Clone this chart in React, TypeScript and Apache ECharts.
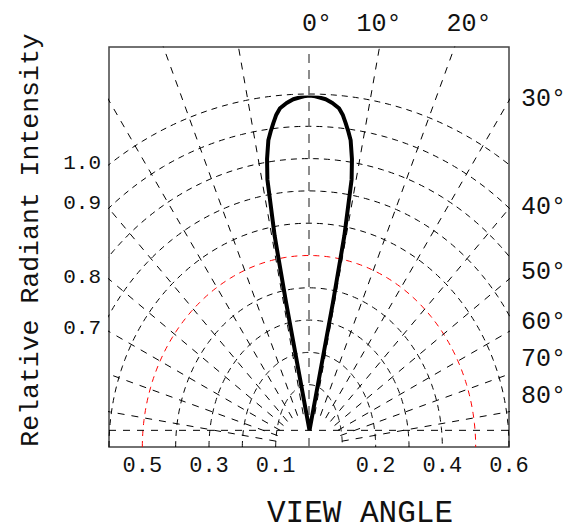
import React, { useEffect, useRef } from "react";
import * as echarts from "echarts";

// ---- data ----
// lobe: view angle (deg) vs relative radiant intensity
const lobeAngles = [-10.5, -10.38, -10.15, -9.52, -8.89, -8.07, -7.4, -6.71, -6.0, -5.23, -4.0, -2.8, -1.63, -1, 0, 1, 1.63, 2.8, 4.0, 5.23, 6.0, 6.71, 7.4, 8.07, 8.89, 9.52, 10.15, 10.38, 10.5];
const lobeIntensity = [0, 0.387, 0.59, 0.76, 0.82, 0.875, 0.9, 0.924, 0.948, 0.966, 0.98, 0.99, 0.995, 0.998, 1.0, 0.998, 0.995, 0.99, 0.98, 0.966, 0.948, 0.924, 0.9, 0.875, 0.82, 0.76, 0.59, 0.387, 0];

const gridArcs = [1, 2, 3, 4, 5, 6, 7, 8, 9, 10];
const redArc = 5;
const radialAngles = [-80, -70, -60, -50, -40, -30, -20, -10, 10, 20, 30, 40, 50, 60, 70, 80];

const topLabels = ["0°", "10°", "20°"];
const rightLabels = ["30°", "40°", "50°", "60°", "70°", "80°"];
const leftLabels = ["1.0", "0.9", "0.8", "0.7"];
const bottomTickLabels = ["0.5", "0.3", "0.1", "0.2", "0.4", "0.6"];
const bottomTickAt = [-5, -3, -1, 2, 4, 6];

// ---- layout (pixels) ----
const topLabelX = [317, 379, 469];
const rightLabelY = [99, 207, 272, 322, 359, 396];
const leftLabelY = [163, 203, 277, 328];

const FONT = "Liberation Mono";

export default function App() {
  const ref = useRef<HTMLDivElement>(null);
  useEffect(() => {
    if (!ref.current) return;
    const chart = echarts.init(ref.current, undefined, { renderer: "svg" });

    const arcSeries = gridArcs.map((k) => {
      const pts: number[][] = [];
      const rx = k;
      const ry = 0.9 + 0.969 * k;
      for (let t = -90; t <= 90; t += 1) {
        const a = (t * Math.PI) / 180;
        pts.push([rx * Math.sin(a), ry * Math.cos(a)]);
      }
      return {
        type: "line",
        silent: true,
        symbol: "none",
        data: pts,
        clip: true,
        z: 2,
        lineStyle: { color: k === redArc ? "#ff0000" : "#000", width: 1, type: [6, 5] },
      };
    });

    const radialSeries = radialAngles.map((deg) => {
      const a = (deg * Math.PI) / 180;
      return {
        type: "line",
        silent: true,
        symbol: "none",
        clip: true,
        z: 2,
        data: [
          [1.0 * Math.sin(a), 1.0 * Math.cos(a)],
          [20 * Math.sin(a), 20 * Math.cos(a)],
        ],
        lineStyle: { color: "#000", width: 1, type: [7, 7] },
      };
    });

    const txt = (text: string, x: number, y: number, size: number, align: string, extra: any = {}) => ({
      type: "text",
      x,
      y,
      z: 10,
      silent: true,
      ...extra,
      style: {
        text,
        fontSize: size,
        fontFamily: FONT,
        fill: "#111",
        align,
        textAlign: align,
        verticalAlign: "middle",
        textVerticalAlign: "middle",
      },
    });

    const graphics: any[] = [];
    topLabels.forEach((t, i) => graphics.push(txt(t, topLabelX[i], 24, 25, "center")));
    rightLabels.forEach((t, i) => graphics.push(txt(t, 521, rightLabelY[i], 25, "left")));
    leftLabels.forEach((t, i) => graphics.push(txt(t, 101, leftLabelY[i], 21, "right")));
    graphics.push(txt("VIEW ANGLE", 360, 513, 31, "center"));
    graphics.push(txt("Relative Radiant Intensity", 31, 240, 26.5, "center", { rotation: Math.PI / 2 }));

    chart.setOption({
      animation: false,
      grid: {
        left: 109,
        top: 47,
        width: 400,
        height: 400,
        show: true,
        borderColor: "#444",
        borderWidth: 1.5,
        backgroundColor: "transparent",
      },
      xAxis: {
        type: "value",
        min: -6,
        max: 6,
        interval: 1,
        axisLine: { show: false },
        axisTick: { show: false },
        splitLine: { show: false },
        axisLabel: {
          show: true,
          margin: 8,
          fontSize: 22,
          fontFamily: FONT,
          color: "#111",
          showMinLabel: true,
          showMaxLabel: true,
          hideOverlap: false,
          formatter: (v: number) => {
            const i = bottomTickAt.indexOf(Math.round(v));
            return i >= 0 ? bottomTickLabels[i] : "";
          },
        },
      },
      yAxis: {
        type: "value",
        min: 0,
        max: 12,
        show: false,
      },
      polar: { center: [309.5, 430.5], radius: 335 },
      radiusAxis: { min: 0, max: 1, show: false },
      angleAxis: { type: "value", min: -180, max: 180, startAngle: 270, clockwise: true, show: false },
      graphic: graphics,
      series: [
        ...arcSeries,
        ...radialSeries,
        {
          type: "line",
          silent: true,
          symbol: "none",
          clip: true,
          z: 2,
          data: [
            [-6, 0.5],
            [6, 0.5],
          ],
          lineStyle: { color: "#000", width: 1, type: [7, 7] },
        },
        {
          type: "line",
          silent: true,
          symbol: "none",
          clip: true,
          z: 3,
          data: [
            [0, 0],
            [0, 12],
          ],
          lineStyle: { color: "#666", width: 1.5, type: [9, 7] },
        },
        {
          type: "line",
          coordinateSystem: "polar",
          polarIndex: 0,
          silent: true,
          symbol: "none",
          z: 5,
          data: lobeAngles.map((a, i) => [lobeIntensity[i], a]),
          lineStyle: { color: "#000", width: 4, join: "round" },
        },
      ],
    });
    return () => chart.dispose();
  }, []);
  return <div ref={ref} style={{ position: "absolute", left: 0, top: 0, width: 582, height: 530 }} />;
}
